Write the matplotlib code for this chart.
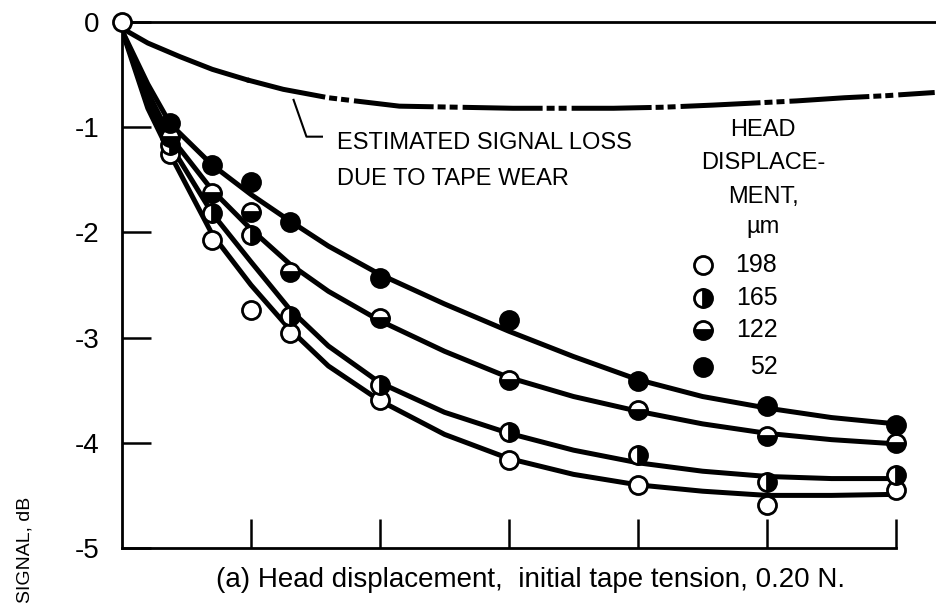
import matplotlib
matplotlib.use('Agg')
import matplotlib.pyplot as plt

plt.rcParams['font.family'] = ['Liberation Sans', 'DejaVu Sans']

# measured points (x in tick units, signal in dB)
x_pts = [0.375, 0.7, 1.0, 1.3, 2, 3, 4, 5, 6]
sig_198 = [-1.25, -2.07, -2.74, -2.96, -3.59, -4.16, -4.40, -4.59, -4.45]
sig_165 = [-1.17, -1.82, -2.02, -2.79, -3.45, -3.90, -4.12, -4.37, -4.31]
sig_122 = [-1.09, -1.63, -1.81, -2.38, -2.81, -3.40, -3.69, -3.94, -4.00]
sig_52 = [-0.96, -1.36, -1.52, -1.90, -2.43, -2.83, -3.41, -3.65, -3.83]
origin_x = [0]
origin_y = [0]

# faired curves
curve_x = [0, 0.2, 0.375, 0.7, 1.0, 1.3, 1.6, 2.0, 2.5, 3.0, 3.5, 4.0, 4.5, 5.0, 5.5, 6.0]
fit_198 = [-0.08, -0.82, -1.26, -2.02, -2.50, -2.92, -3.27, -3.60, -3.92, -4.15, -4.30, -4.40, -4.46, -4.50, -4.50, -4.49]
fit_165 = [-0.08, -0.74, -1.17, -1.82, -2.28, -2.73, -3.08, -3.43, -3.71, -3.91, -4.07, -4.19, -4.27, -4.32, -4.34, -4.34]
fit_122 = [-0.08, -0.67, -1.09, -1.60, -1.97, -2.30, -2.56, -2.84, -3.13, -3.38, -3.56, -3.70, -3.82, -3.91, -3.97, -4.01]
fit_52 = [-0.08, -0.59, -0.97, -1.36, -1.64, -1.89, -2.13, -2.40, -2.68, -2.94, -3.18, -3.40, -3.56, -3.67, -3.76, -3.82]

# estimated loss due to tape wear
wear_x = [0, 0.2, 0.45, 0.7, 0.97, 1.25, 1.6, 2.15, 2.6, 3.03, 3.5, 3.81, 4.2, 4.58, 5.23, 5.6, 5.93, 6.30]
wear_y = [-0.06, -0.20, -0.33, -0.45, -0.55, -0.64, -0.72, -0.80, -0.81, -0.82, -0.82, -0.82, -0.81, -0.79, -0.75, -0.72, -0.70, -0.67]

legend_labels = ['198', '165', '122', '52']
y_ticks = [0, -1, -2, -3, -4, -5]
y_ticklabels = ['0', '-1', '-2', '-3', '-4', '-5']

fig = plt.figure(figsize=(9.36, 6.09), dpi=100)
ax = fig.add_axes([122 / 936, 61 / 609, 814 / 936, 526 / 609])
ax.set_xlim(0, 814 / 129)
ax.set_ylim(-5, 0)

ax.spines['right'].set_visible(False)
ax.spines['bottom'].set_bounds(0, 6)
for s in ['left', 'bottom', 'top']:
    ax.spines[s].set_linewidth(2)

ax.set_xticks([1, 2, 3, 4, 5, 6])
ax.tick_params(axis='x', direction='in', length=21, width=1.8, labelbottom=False)
ax.set_yticks(y_ticks)
ax.set_yticklabels(y_ticklabels)
ax.tick_params(axis='y', direction='in', length=21, width=1.8, pad=16, labelsize=20)

lw = 3.6
for fit in [fit_198, fit_165, fit_122, fit_52]:
    ax.plot(curve_x, fit, color='black', lw=lw, solid_joinstyle='round', zorder=2)

# wear curve: solid near the origin, then long-dash / double-dot
ax.plot(wear_x[:5], wear_y[:5], color='black', lw=lw, zorder=2)
ax.plot(wear_x[4:], wear_y[4:], color='black', lw=lw, zorder=2, clip_on=False,
        dashes=(16, 0.8, 1.6, 0.8, 1.6, 1.0))

mk = dict(marker='o', ls='none', ms=13, mec='black', mew=2, zorder=4, clip_on=False)
ax.plot(x_pts, sig_198, mfc='white', **mk)
ax.plot(x_pts, sig_165, mfc='black', fillstyle='right', markerfacecoloralt='white', **mk)
ax.plot(x_pts, sig_122, mfc='black', fillstyle='bottom', markerfacecoloralt='white', **mk)
ax.plot(x_pts, sig_52, mfc='black', **mk)
ax.plot(origin_x, origin_y, mfc='white', **mk)

# key
key_y = [-2.31, -2.62, -2.93, -3.28]
ax.plot([4.5], [key_y[0]], mfc='white', **mk)
ax.plot([4.5], [key_y[1]], mfc='black', fillstyle='right', markerfacecoloralt='white', **mk)
ax.plot([4.5], [key_y[2]], mfc='black', fillstyle='bottom', markerfacecoloralt='white', **mk)
ax.plot([4.5], [key_y[3]], mfc='black', **mk)
for lab, yy in zip(legend_labels, key_y):
    ax.text(5.08, yy, lab, ha='right', va='center', fontsize=18)
for txt, yy in zip(['HEAD', 'DISPLACE-', 'MENT,', 'µm'], [-1.03, -1.34, -1.66, -1.95]):
    ax.text(4.97, yy, txt, ha='center', va='center', fontsize=17)

# annotation for wear curve
ax.text(1.67, -1.15, 'ESTIMATED SIGNAL LOSS', ha='left', va='center', fontsize=17)
ax.text(1.67, -1.49, 'DUE TO TAPE WEAR', ha='left', va='center', fontsize=17)
ax.plot([1.33, 1.43, 1.55], [-0.74, -1.09, -1.09], color='black', lw=1.5)

fig.text(530 / 936, 1 - 580 / 609, '(a) Head displacement,  initial tape tension, 0.20 N.',
         ha='center', va='center', fontsize=20)
fig.text(25 / 936, 1 - 550 / 609, 'SIGNAL, dB', rotation=90, ha='center', va='center',
         fontsize=14)

fig.savefig('out.png', dpi=100)
